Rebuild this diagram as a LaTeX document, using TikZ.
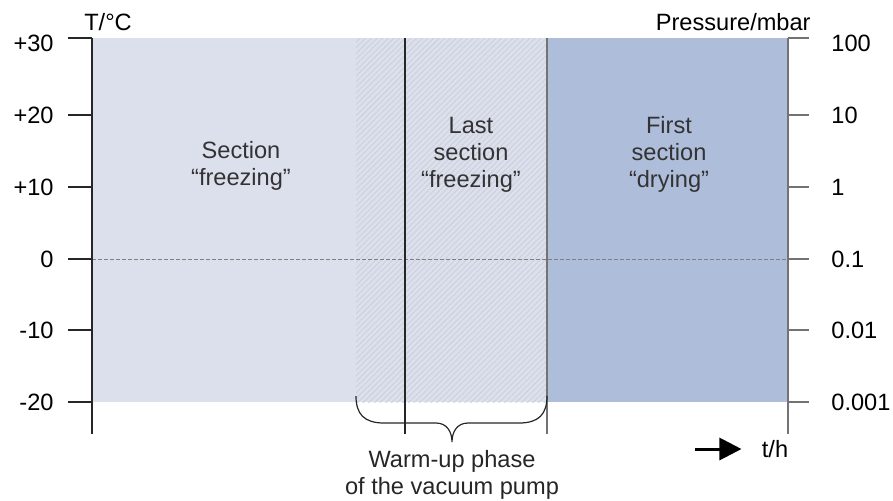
\documentclass[tikz,border=0pt]{standalone}
\usepackage{fontspec}
\setmainfont{Liberation Sans}
\usetikzlibrary{positioning, arrows.meta, patterns.meta}

\definecolor{freezefill}{HTML}{DCE0EC}
\definecolor{dryfill}{HTML}{AEBDDA}
\definecolor{hatchline}{HTML}{CBD0DC}
\definecolor{labeltext}{HTML}{333333}

\begin{document}
\begin{tikzpicture}[x=0.5pt, y=-0.5pt,
        font=\fontsize{11.8}{13.5}\selectfont,
        % Style definitions
        axisline/.style={
            line width=0.6pt,
            draw=black!85
        },
        greyline/.style={
            line width=0.6pt,
            draw=black!55
        },
        region/.style={
            align=center,
            text=labeltext
        },
        ticklabel/.style={
            inner sep=0pt,
            text=black
        },
        timearrow/.style={
            -{Triangle[length=11pt, width=11pt]},
            line width=1.5pt
        }
    ]
        \useasboundingbox (0,0) rectangle (893,500);

        % ==========================================
        % Shaded sections
        % ==========================================
        \fill[freezefill] (92,38) rectangle (788,402);
        \fill[pattern={Lines[angle=45, distance=2pt, line width=0.45pt]}, pattern color=hatchline]
            (356,38) rectangle (547,402);
        \fill[dryfill] (547,38) rectangle (788,402);

        % Zero line
        \draw[black!50, line width=0.5pt, dash pattern=on 2pt off 1pt] (92,259) -- (788,259);

        % ==========================================
        % Axes and section borders
        % ==========================================
        \coordinate (leftTop) at (92,38);
        \coordinate (leftBottom) at (92,434);
        \coordinate (rightTop) at (788,38);
        \coordinate (rightBottom) at (788,434);
        \coordinate (pumpTop) at (405,38);
        \coordinate (pumpBottom) at (405,434);
        \coordinate (dryTop) at (547,38);
        \coordinate (dryBottom) at (547,434);

        \draw[axisline] (leftTop) -- (leftBottom);
        \draw[greyline] (rightTop) -- (rightBottom);
        \draw[axisline] (pumpTop) -- (pumpBottom);
        \draw[greyline] (dryTop) -- (dryBottom);

        % Ticks and scale labels
        \foreach \yy/\ly/\tl/\pl in {38/43/+30/100, 115/115/+20/10, 187/187/+10/1,
                                     259/259/0/0.1, 330/330/-10/0.01, 402/402/-20/0.001} {
            \draw[axisline] (68,\yy) -- (92,\yy);
            \draw[greyline] (788,\yy) -- (809,\yy);
            \node[ticklabel, anchor=east] (temp\yy) at (54,\ly) {\tl};
            \node[ticklabel, anchor=west] (press\yy) at (831,\ly) {\pl};
        }

        % Axis titles
        \node[ticklabel] (tempaxis) at (108,22) {T/°C};
        \node[ticklabel, anchor=east] (pressaxis) at (811,22) {Pressure/mbar};

        % ==========================================
        % Section labels
        % ==========================================
        \node[region] (freezing) at (241,166) {Section\\“freezing”};
        \node[region] (lastfreezing) at (471,155) {Last\\section\\“freezing”};
        \node[region] (drying) at (669,154) {First\\section\\“drying”};

        % ==========================================
        % Warm-up brace and time arrow
        % ==========================================
        \coordinate (braceLeft) at (356,396);
        \coordinate (braceTip) at (452,442);
        \coordinate (braceRight) at (547,396);
        \draw[black!85, line width=0.6pt]
            (braceLeft) .. controls (356,414) and (364,423) .. (384,423) -- (436,423)
            .. controls (447,423) and (452,432) .. (braceTip)
            .. controls (452,432) and (457,423) .. (468,423) -- (519,423)
            .. controls (539,423) and (547,414) .. (braceRight);
        \node[region, text=black!85] (pump) at (452,475) {Warm-up phase\\of the vacuum pump};

        \node[ticklabel] (timelabel) at (775,449) {t/h};
        \coordinate (arrowtail) at (695,449);
        \draw[timearrow] (arrowtail) -- ([xshift=-10pt]timelabel.west);

    \end{tikzpicture}
\end{document}
